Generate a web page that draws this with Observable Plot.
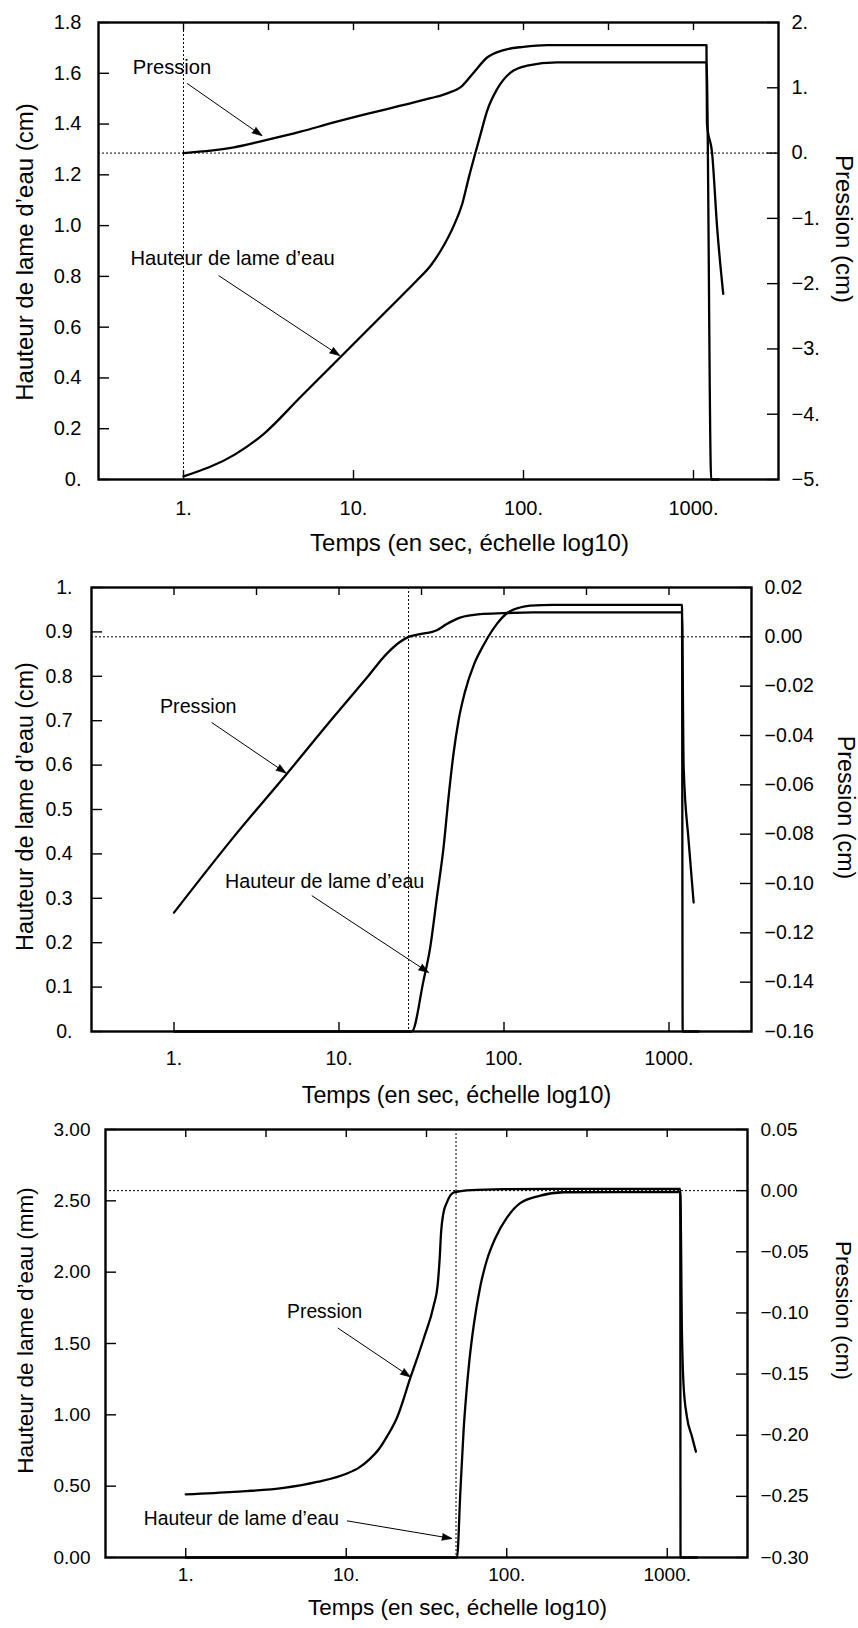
<!DOCTYPE html>
<html>
<head>
<meta charset="utf-8">
<script src="https://cdn.jsdelivr.net/npm/d3@7"></script>
<script src="https://cdn.jsdelivr.net/npm/@observablehq/plot@0.6"></script>
<style>
  html, body { margin: 0; padding: 0; background: #fff; }
  .panel { position: relative; width: 858px; }
  .panel svg { display: block; max-width: none; }
</style>
</head>
<body>
<div id="p1" class="panel"></div>
<div id="p2" class="panel"></div>
<div id="p3" class="panel"></div>
<script>
// ---------- shared time axis ----------
const timeDomain = [0.31623, 3162.3];
const timeTicks = [1, 10, 100, 1000];
const timeLabels = ["1.", "10.", "100.", "1000."];
const timeTicksTop = [1, 3.1623, 10, 31.623, 100, 316.23, 1000];
const xTitle = "Temps (en sec, échelle log10)";
const pressTitle = "Pression (cm)";
const labelPression = "Pression";
const labelHauteur = "Hauteur de lame d’eau";

// ---------- panel 1 ----------
const p1HeightTitle = "Hauteur de lame d’eau (cm)";
const p1HeightTicks = [0, 0.2, 0.4, 0.6, 0.8, 1.0, 1.2, 1.4, 1.6, 1.8];
const p1HeightLabels = ["0.", "0.2", "0.4", "0.6", "0.8", "1.0", "1.2", "1.4", "1.6", "1.8"];
const p1PressTicks = [-5, -4, -3, -2, -1, 0, 1, 2];
const p1PressLabels = ["−5.", "−4.", "−3.", "−2.", "−1.", "0.", "1.", "2."];
const p1Height = [
  [1, 0.012], [2.0, 0.098], [2.97, 0.18], [4.88, 0.325], [7.66, 0.456], [12, 0.587],
  [18.9, 0.719], [23.5, 0.783], [28.4, 0.842], [32.5, 0.9], [38.9, 1.0], [43.6, 1.085],
  [47.7, 1.19], [52.2, 1.288], [55.9, 1.36], [61.1, 1.452], [70, 1.538], [83.9, 1.603],
  [105, 1.63], [158, 1.643], [1192, 1.643], [1271, 0], [1403, 0]
];
const p1Pressure = [
  [1, 0.0], [1.98, 0.087], [2.97, 0.19], [4.88, 0.327], [7.66, 0.469], [12, 0.6],
  [18.9, 0.725], [28.4, 0.84], [35.6, 0.915], [43.6, 1.031], [51, 1.235], [61.1, 1.464],
  [76.6, 1.578], [100, 1.628], [138, 1.654], [1192, 1.654], [1200, 0.449], [1288, -0.014],
  [1377, -1.138], [1496, -2.157]
];
const p1ZeroTime = 1;

// ---------- panel 2 ----------
const p2HeightTitle = "Hauteur de lame d’eau (cm)";
const p2HeightTicks = [0, 0.1, 0.2, 0.3, 0.4, 0.5, 0.6, 0.7, 0.8, 0.9, 1.0];
const p2HeightLabels = ["0.", "0.1", "0.2", "0.3", "0.4", "0.5", "0.6", "0.7", "0.8", "0.9", "1."];
const p2PressTicks = [-0.16, -0.14, -0.12, -0.10, -0.08, -0.06, -0.04, -0.02, 0, 0.02];
const p2PressLabels = ["−0.16", "−0.14", "−0.12", "−0.10", "−0.08", "−0.06", "−0.04", "−0.02", "0.00", "0.02"];
const p2Height = [
  [1, 0], [27.6, 0], [32.5, 0.114], [35.7, 0.189], [39.2, 0.302], [43, 0.414], [46.1, 0.527],
  [49.4, 0.625], [53, 0.7], [58, 0.765], [66, 0.828], [75.1, 0.87], [90.6, 0.918], [104, 0.942],
  [125, 0.955], [144, 0.959], [200, 0.961], [1199, 0.961], [1210, 0], [1510, 0]
];
const p2Pressure = [
  [1, -0.1118], [2.29, -0.0813], [4.82, -0.0556], [9.25, -0.0326], [14.7, -0.0167],
  [19.5, -0.0068], [23.5, -0.002], [26.4, 0.0], [31, 0.0011], [39.2, 0.0027], [45, 0.0052],
  [54.2, 0.0078], [71.7, 0.0092], [99.3, 0.0096], [150, 0.0099], [1199, 0.0099],
  [1227, -0.053], [1315, -0.0827], [1410, -0.1077]
];
const p2ZeroTime = 26.4;

// ---------- panel 3 ----------
const p3HeightTitle = "Hauteur de lame d’eau (mm)";
const p3HeightTicks = [0, 0.5, 1.0, 1.5, 2.0, 2.5, 3.0];
const p3HeightLabels = ["0.00", "0.50", "1.00", "1.50", "2.00", "2.50", "3.00"];
const p3PressTicks = [-0.30, -0.25, -0.20, -0.15, -0.10, -0.05, 0, 0.05];
const p3PressLabels = ["−0.30", "−0.25", "−0.20", "−0.15", "−0.10", "−0.05", "0.00", "0.05"];
const p3Height = [
  [1, 0], [49, 0], [51.4, 0.46], [53.9, 0.9], [56, 1.15], [58.5, 1.38], [62.5, 1.64],
  [68.4, 1.9], [75, 2.08], [85, 2.24], [100, 2.38], [120, 2.48], [160, 2.535], [226, 2.56],
  [1205, 2.563], [1210, 0], [1531, 0]
];
const p3Pressure = [
  [1, -0.2484], [1.99, -0.2463], [4.08, -0.2431], [6.58, -0.2382], [10.1, -0.2313],
  [12, -0.2265], [14, -0.2195], [16, -0.2113], [18, -0.2008], [20.7, -0.1857],
  [25.1, -0.153], [30.4, -0.1209], [35.1, -0.0937], [37.1, -0.0773], [38.2, -0.0555],
  [39, -0.0338], [40.1, -0.02], [42.5, -0.0092], [45.6, -0.0024], [48.6, -0.001],
  [60, 0.0004], [100, 0.0012], [200, 0.0015], [1205, 0.0015], [1235, -0.1168],
  [1262, -0.1577], [1326, -0.185], [1426, -0.2012], [1509, -0.2135]
];
const p3ZeroTime = 48.3;

// ---------- builder ----------
const FONT = "'Liberation Sans', Arial, Helvetica, sans-serif";
function lab(ticks, labels) {
  const m = new Map(ticks.map((t, i) => [t, labels[i]]));
  return d => m.has(d) ? m.get(d) : "";
}

function panel(el, c) {
  const W = 858, H = c.height;
  const [mt, mr, mb, ml] = c.margin;
  const plotW = W - mr - ml, plotH = H - mt - mb;
  el.style.height = H + "px";
  // scales used to orient the arrowheads
  const xs = Plot.scale({x: {type: "log", domain: timeDomain, range: [ml, W - mr]}});
  const ys = Plot.scale({y: {domain: c.hDomain, range: [H - mb, mt]}});
  const headAngle = d => {
    const dx = xs.apply(d[2]) - xs.apply(d[0]);
    const dy = ys.apply(d[3]) - ys.apply(d[1]);
    return Math.atan2(dx, -dy) * 180 / Math.PI;
  };
  const base = {
    width: W, height: H, marginTop: mt, marginRight: mr, marginBottom: mb, marginLeft: ml,
    style: {fontFamily: FONT, fontSize: c.fs + "px", color: "#000", background: "transparent", overflow: "visible"}
  };
  const main = Plot.plot({
    ...base,
    x: {type: "log", domain: timeDomain},
    y: {domain: c.hDomain},
    marks: [
      Plot.ruleX([c.zeroTime], {stroke: "#000", strokeWidth: 1, strokeDasharray: "2,2"}),
      Plot.tickX(timeTicks, {x: d => d, insetTop: plotH - 9, stroke: "#000", strokeWidth: 1.4}),
      Plot.tickX(timeTicksTop, {x: d => d, insetBottom: plotH - 8, stroke: "#000", strokeWidth: 1.4}),
      Plot.tickY(c.hTicks, {y: d => d, insetRight: plotW - 11, stroke: "#000", strokeWidth: 1.4}),
      Plot.axisX(timeTicks, {anchor: "bottom", tickSize: 0, tickPadding: c.xPad, tickFormat: lab(timeTicks, timeLabels), label: null}),
      Plot.axisY(c.hTicks, {anchor: "left", tickSize: 0, tickPadding: c.yPad, tickFormat: lab(c.hTicks, c.hLabels), label: null}),
      Plot.line(c.hSeries, {x: d => d[0], y: d => d[1], stroke: "#000", strokeWidth: 2.3, curve: "monotone-x"}),
      Plot.text(c.notes, {x: d => d[1], y: d => d[2], text: d => d[0], textAnchor: "start", lineAnchor: "middle", fontSize: c.fn}),
      Plot.link(c.arrows, {x1: d => d[0], y1: d => d[1], x2: d => d[2], y2: d => d[3], stroke: "#000", strokeWidth: 1}),
      Plot.vector(c.arrows, {x: d => d[2], y: d => d[3], rotate: headAngle, length: 10, r: 3.5, shape: "spike", anchor: "end", fill: "#000", stroke: "#000", strokeWidth: 0.6}),
      Plot.text([xTitle], {text: d => d, frameAnchor: "bottom", textAnchor: "middle", lineAnchor: "middle", dx: c.xt[0], dy: c.xt[1], fontSize: c.ft}),
      Plot.text([c.hTitle], {text: d => d, frameAnchor: "left", textAnchor: "middle", lineAnchor: "middle", rotate: -90, dx: c.lt[0], dy: c.lt[1], fontSize: c.ft}),
      Plot.frame({stroke: "#000", strokeWidth: 2.4})
    ]
  });
  const over = Plot.plot({
    ...base,
    x: {type: "log", domain: timeDomain, axis: null},
    y: {domain: c.pDomain},
    marks: [
      Plot.ruleY([0], {stroke: "#000", strokeWidth: 1, strokeDasharray: "2,2"}),
      Plot.tickY(c.pTicks, {y: d => d, insetLeft: plotW - 11, stroke: "#000", strokeWidth: 1.4}),
      Plot.axisY(c.pTicks, {anchor: "right", tickSize: 0, tickPadding: c.rPad, tickFormat: lab(c.pTicks, c.pLabels), label: null}),
      Plot.line(c.pSeries, {x: d => d[0], y: d => d[1], stroke: "#000", strokeWidth: 2.3, curve: "monotone-x"}),
      Plot.text([pressTitle], {text: d => d, frameAnchor: "right", textAnchor: "middle", lineAnchor: "middle", rotate: 90, dx: c.rt[0], dy: c.rt[1], fontSize: c.ft})
    ]
  });
  over.style.position = "absolute";
  over.style.left = "0px";
  over.style.top = "0px";
  el.appendChild(main);
  el.appendChild(over);
}

panel(document.getElementById("p1"), {
  height: 565, margin: [22, 80, 86, 98], fs: 20, fn: 20.2, ft: 24,
  hDomain: [0, 1.8], pDomain: [-5, 2],
  hTicks: p1HeightTicks, hLabels: p1HeightLabels, pTicks: p1PressTicks, pLabels: p1PressLabels,
  hSeries: p1Height, pSeries: p1Pressure, zeroTime: p1ZeroTime, hTitle: p1HeightTitle,
  xPad: 21, yPad: 17, rPad: 13,
  xt: [31, 64], lt: [-73, 1], rt: [65, -22],
  notes: [[labelPression, 0.503, 1.623], [labelHauteur, 0.488, 0.869]],
  arrows: [[1.05, 1.56, 2.9, 1.354], [1.61, 0.803, 8.3, 0.488]]
});
panel(document.getElementById("p2"), {
  height: 545, margin: [22, 107, 79, 91], fs: 19.5, fn: 19.7, ft: 23.3,
  hDomain: [0, 1.0], pDomain: [-0.16, 0.02],
  hTicks: p2HeightTicks, hLabels: p2HeightLabels, pTicks: p2PressTicks, pLabels: p2PressLabels,
  hSeries: p2Height, pSeries: p2Pressure, zeroTime: p2ZeroTime, hTitle: p2HeightTitle,
  xPad: 20, yPad: 19, rPad: 13,
  xt: [35, 64], lt: [-66, -3], rt: [94, -2],
  notes: [[labelPression, 0.822, 0.732], [labelHauteur, 2.04, 0.337]],
  arrows: [[1.69, 0.696, 4.78, 0.582], [6.84, 0.306, 34.9, 0.133]]
});
panel(document.getElementById("p3"), {
  height: 518, margin: [19, 111, 71, 105], fs: 19, fn: 19.3, ft: 22.5,
  hDomain: [0, 3.0], pDomain: [-0.30, 0.05],
  hTicks: p3HeightTicks, hLabels: p3HeightLabels, pTicks: p3PressTicks, pLabels: p3PressLabels,
  hSeries: p3Height, pSeries: p3Pressure, zeroTime: p3ZeroTime, hTitle: p3HeightTitle,
  xPad: 10, yPad: 15, rPad: 13,
  xt: [31, 50], lt: [-80, -13], rt: [96, -33],
  notes: [[labelPression, 4.28, 1.722], [labelHauteur, 0.548, 0.273]],
  arrows: [[8.85, 1.609, 25.1, 1.266], [10.1, 0.257, 45.6, 0.133]]
});
</script>
</body>
</html>
